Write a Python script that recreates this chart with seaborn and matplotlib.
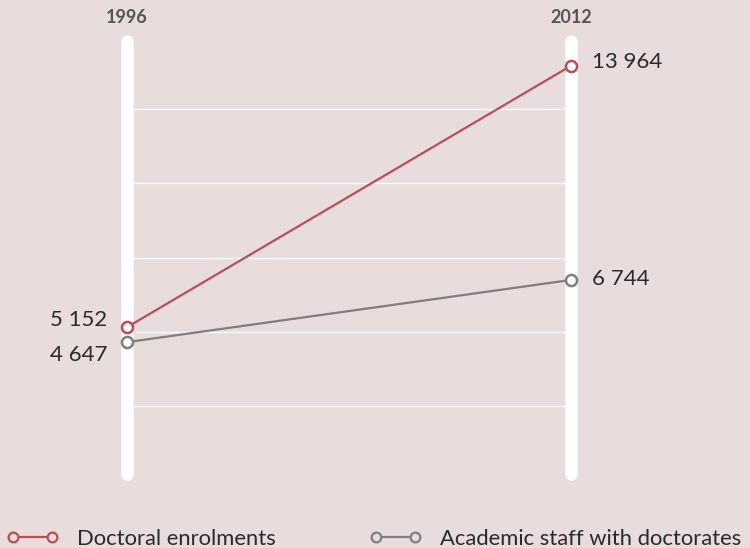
import matplotlib
matplotlib.use("Agg")
import matplotlib.pyplot as plt
import pandas as pd
import seaborn as sns
from matplotlib.lines import Line2D

# data
years = [1996, 2012]
enrolments = [5152, 13964]
staff = [4647, 6744]
series_names = ["Doctoral enrolments", "Academic staff with doctorates"]
grid_values = [2500, 5000, 7500, 10000, 12500]

BG = "#e8dcdc"
RED = "#b5505a"
GREY = "#7f7f7f"
TEXT = "#2b2b2b"

sns.set_style("white")
plt.rcParams["font.family"] = ["Lato", "DejaVu Sans"]

df = pd.DataFrame({
    "year": years * 2,
    "value": enrolments + staff,
    "series": [series_names[0]] * 2 + [series_names[1]] * 2,
})

fig = plt.figure(figsize=(7.5, 5.48), dpi=100, facecolor=BG)
ax = fig.add_axes([0, 0, 1, 1])
ax.set_facecolor(BG)

# light grid between the two year bars
ax.hlines(grid_values, years[0], years[1], color="white", lw=1, zorder=1)

# white vertical year bars
for yr in years:
    ax.plot([yr, yr], [200, 14800], color="white", lw=9,
            solid_capstyle="round", zorder=2)
    ax.text(yr, 15600, str(yr), ha="center", va="center", fontsize=13,
            fontweight="bold", color="#555555")

sns.lineplot(data=df, x="year", y="value", hue="series",
             palette={series_names[0]: RED, series_names[1]: GREY},
             marker="o", markersize=8, markerfacecolor="white",
             markeredgewidth=1.8, linewidth=1.6, legend=False, ax=ax,
             zorder=3)
for ln in ax.get_lines():
    if ln.get_color() in (RED, GREY):
        ln.set_markeredgecolor(ln.get_color())


def fmt(v):
    return f"{v:,}".replace(",", " ")


# value labels
label_kw = dict(textcoords="offset points", va="center", fontsize=16,
                color=TEXT)
ax.annotate(fmt(enrolments[0]), (years[0], enrolments[0]), xytext=(-14, 5),
            ha="right", **label_kw)
ax.annotate(fmt(staff[0]), (years[0], staff[0]), xytext=(-14, -9),
            ha="right", **label_kw)
ax.annotate(fmt(enrolments[1]), (years[1], enrolments[1]), xytext=(15, 3),
            ha="left", **label_kw)
ax.annotate(fmt(staff[1]), (years[1], staff[1]), xytext=(15, 1),
            ha="left", **label_kw)

ax.set_xlim(1991.42, 2018.45)
ax.set_ylim(-2292, 16180)
ax.axis("off")

handles = [
    Line2D([], [], color=c, lw=1.6, marker="o", markersize=7,
           markerfacecolor=BG, markeredgecolor=c, markeredgewidth=1.6)
    for c in (RED, GREY)
]
fig.legend(handles, series_names, loc="lower left", bbox_to_anchor=(0.0, -0.014),
           ncol=2, numpoints=2, frameon=False, handlelength=2.35,
           handletextpad=0.85, columnspacing=4.3, borderaxespad=0.3,
           borderpad=0.0, prop={"size": 15.8}, labelcolor=TEXT)

fig.savefig("out.png", dpi=100, facecolor=BG)
